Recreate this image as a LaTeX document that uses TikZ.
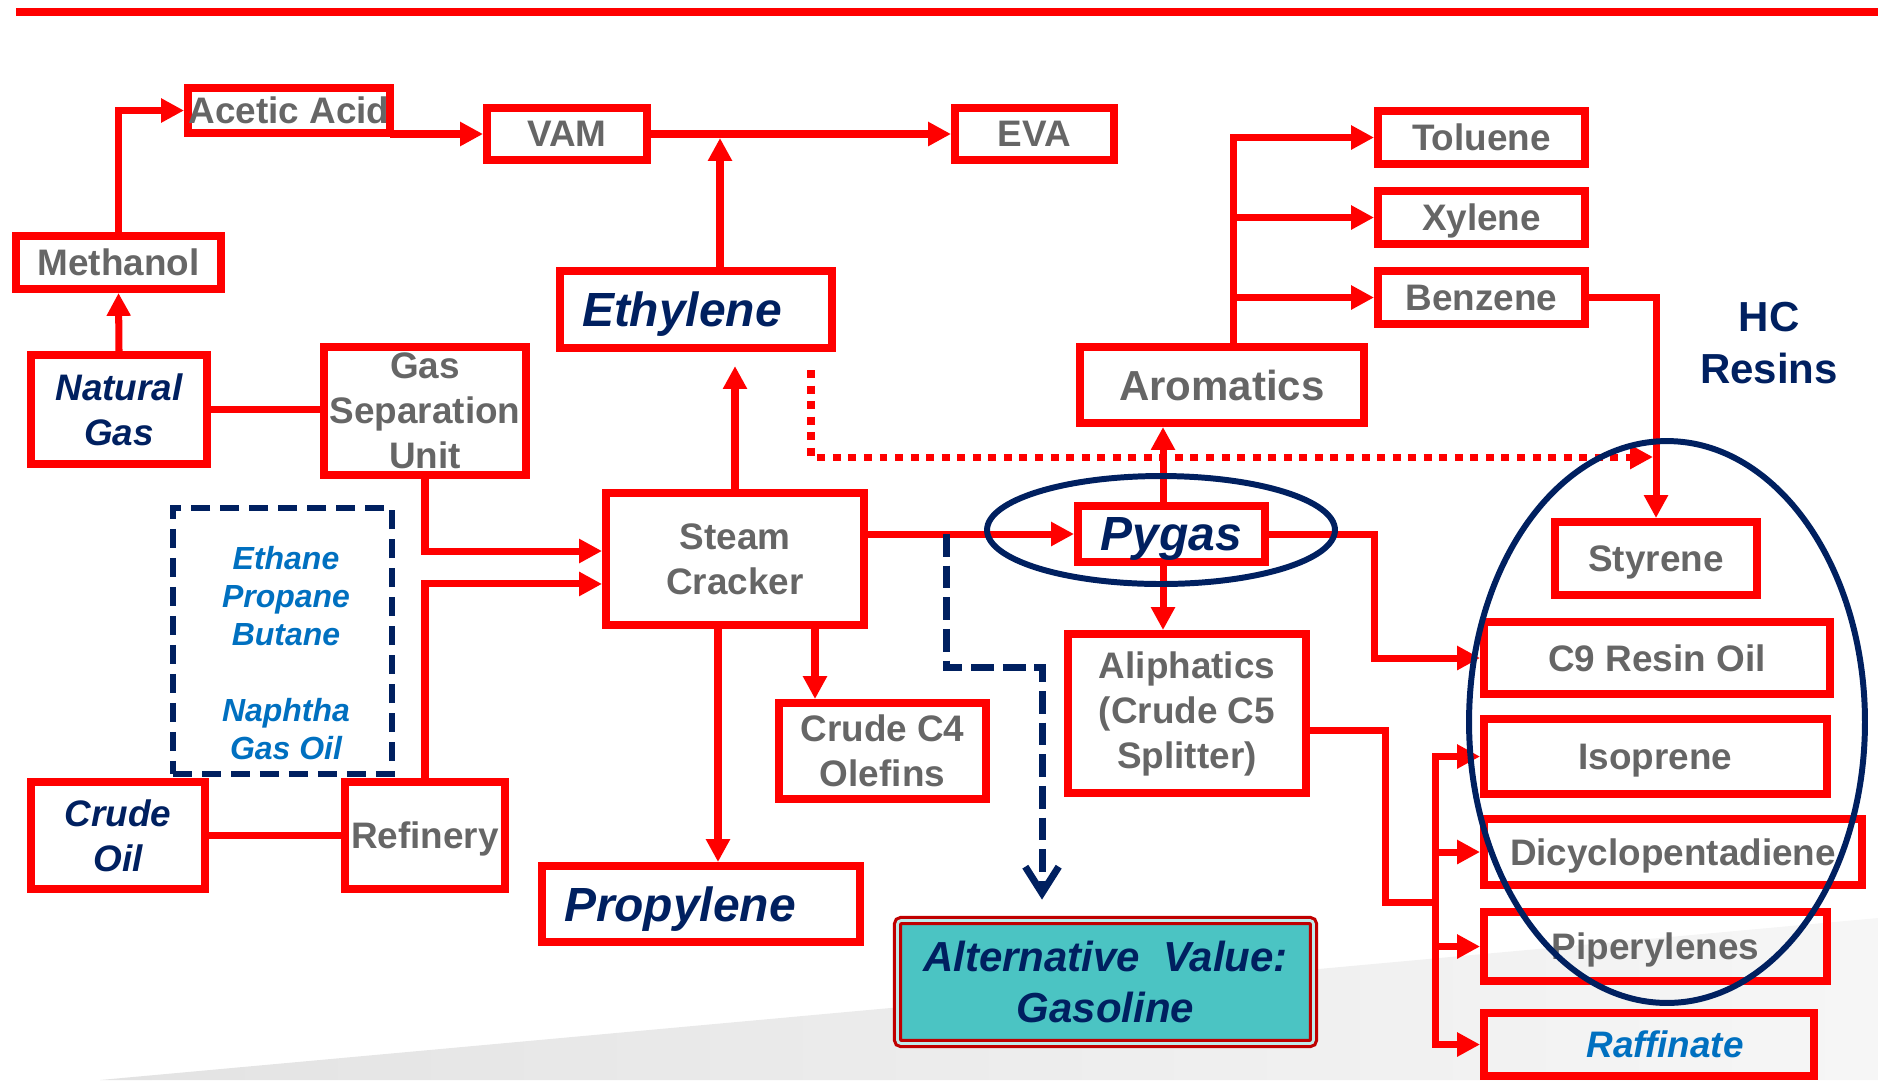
\documentclass[tikz,border=0pt]{standalone}
\usepackage{fontspec}
\setmainfont{Liberation Sans}
\usetikzlibrary{arrows.meta}
\definecolor{boxred}{RGB}{255,0,0}
\definecolor{txtgray}{RGB}{102,102,102}
\definecolor{navy}{RGB}{0,32,96}
\definecolor{feedblue}{RGB}{0,112,192}
\definecolor{altred}{RGB}{192,0,0}
\definecolor{gasteal}{RGB}{75,196,195}
\newcommand\fnorm{\fontsize{21}{25.6}\selectfont\bfseries}
\newcommand\fmid{\fontsize{23.9}{29.4}\selectfont\bfseries}
\newcommand\fbig{\fontsize{27.3}{32}\selectfont\bfseries\itshape}
\newcommand\ffeed{\fontsize{18.2}{21.6}\selectfont\bfseries\itshape}

\begin{document}
\begin{tikzpicture}[x=0.02cm, y=-0.02cm, >={Triangle[length=13pt,width=13pt]},
	bx/.style 2 args={draw=boxred, line width=4.55pt, minimum width=#1, minimum height=#2, inner sep=0pt, align=center, font=\fnorm, text=txtgray},
	sl/.style={text depth=0pt},
	key/.style={text=navy, font=\fnorm\itshape},
	big/.style={text=navy, font=\fbig, text depth=0pt},
	ln/.style={draw=boxred, line width=4pt, line cap=rect},
	arr/.style={ln, ->},
	dotarr/.style={draw=boxred, line width=4pt, dash pattern=on 4.55pt off 4.3pt, ->},
	gasarr/.style={draw=navy, line width=4pt, dash pattern=on 13pt off 5pt, -{Straight Barb[length=15pt,width=19pt]}},
	ring/.style={draw=navy, line width=3.4pt}]
	\useasboundingbox (0,0) rectangle (1878,1080);
	\shade[left color=gray!22, right color=gray!7] (100,1080) -- (1878,918) -- (1878,1080) -- cycle;
	\draw[boxred, line width=5.1pt] (16,12) -- (1878,12);

	\node[bx={4.04cm}{0.90cm}] (AA) at (289,110.5) {Acetic Acid};
	\node[bx={3.20cm}{1.04cm}] (VAM) at (567,134) {VAM};
	\node[bx={3.18cm}{1.04cm}] (EVA) at (1034.5,134) {EVA};
	\node[bx={4.10cm}{1.06cm}] (MeOH) at (118.5,262.5) {Methanol};
	\node[bx={3.52cm}{2.18cm}, key] (NG) at (119,409.5) {Natural\\Gas};
	\node[bx={4.04cm}{2.56cm}] (GSU) at (425,411) {Gas\\Separation\\Unit};
	\node[bx={5.44cm}{1.54cm}, big, text width=4.56cm, align=left] (Et) at (696,309.5) {Ethylene};
	\node[bx={5.68cm}{1.52cm}, font=\fmid] (Ar) at (1222,385) {Aromatics};
	\node[bx={4.14cm}{1.06cm}] (Tol) at (1481.5,137.5) {Toluene};
	\node[bx={4.14cm}{1.06cm}, sl] (Xyl) at (1481.5,217.5) {Xylene};
	\node[bx={4.14cm}{1.06cm}] (Bz) at (1481.5,297.5) {Benzene};
	\node[bx={5.16cm}{2.64cm}] (SC) at (735,559) {Steam\\Cracker};
	\node[bx={3.74cm}{1.12cm}, big] (Py) at (1171.5,534) {Pygas};
	\node[bx={4.14cm}{1.92cm}] (C4) at (882.5,751) {Crude C4\\Olefins};
	\node[bx={4.76cm}{3.18cm}] (Ali) at (1187,713.5) {Aliphatics\\(Crude C5\\Splitter)};
	\node[bx={6.36cm}{1.52cm}, big, text width=5.48cm, align=left] (Pr) at (701,904) {Propylene};
	\node[bx={3.48cm}{2.14cm}, key] (CO) at (118,835.5) {Crude\\Oil};
	\node[bx={3.20cm}{2.14cm}, sl] (Ref) at (425,835.5) {Refinery};
	\node[bx={4.04cm}{1.46cm}, sl] (Sty) at (1656,558.5) {Styrene};
	\node[bx={6.92cm}{1.44cm}] (C9) at (1657,658) {C9 Resin Oil};
	\node[bx={6.86cm}{1.50cm}, sl] (Iso) at (1655.5,756.5) {Isoprene};
	\node[bx={7.56cm}{1.32cm}, sl] (DCPD) at (1673,852) {Dicyclopentadiene};
	\node[bx={6.86cm}{1.38cm}, sl] (Pip) at (1655.5,946.5) {Piperylenes};
	\node[bx={6.60cm}{1.26cm}, text=feedblue, font=\fnorm\itshape] (Raf) at (1649,1044.5) {\hspace*{0.64cm}Raffinate};
	\node[draw=altred, line width=1.8pt, double=gasteal!35!white, double distance=1.6pt, rounded corners=2pt,
		fill=gasteal, minimum width=8.32cm, minimum height=2.46cm, inner sep=0pt, align=center,
		text=navy, font=\fmid\itshape] (Alt) at (1105.5,982) {Alternative\ \ Value:\\Gasoline};
	\node[text=navy, font=\fmid, align=center] (HC) at (1769,343) {HC\\Resins};
	\node[draw=navy, line width=3.6pt, dash pattern=on 11pt off 5.5pt, minimum width=4.38cm, minimum height=5.32cm] (feed) at (282.5,641) {};
	\node[text=feedblue, font=\ffeed, align=center] (fd) at (286,653) {Ethane\\Propane\\Butane\\[21.6pt]Naphtha\\Gas Oil};

	\coordinate (jE) at (720,138);
	\coordinate (xC4) at (815,0);
	\coordinate (xPr) at (718,0);
	\coordinate (xPy) at (1163,0);
	\coordinate (xAr) at (1233,0);
	\coordinate (kC9) at (1374,600);
	\coordinate (kAl) at (1385,730);
	\coordinate (bus) at (1435,902);
	\coordinate (gas) at (946,534);
	\coordinate (kG) at (1042,667);
	\coordinate (dS) at (811,370);
	\coordinate (dE) at (1653,457);

	\draw[ln] (NG) -- (NG -| GSU.west); \draw[ln] (CO) -- (Ref);
	\draw[arr] (NG.north) -- (MeOH.south); \draw[arr] (MeOH.north) |- (AA.west);
	\draw[arr] (VAM.west -| AA.east) -- (VAM.west); \draw[arr] (VAM) -- (EVA);
	\draw[arr] (Et.north -| jE) -- (jE);
	\draw[arr, shorten >=8pt] (SC.north) -- (SC.north |- Et.south);
	\draw[arr] (GSU.south) |- ([yshift=4.55pt]SC.west);
	\draw[arr] (Ref.north) |- ([yshift=-14.2pt]SC.west);
	\draw[arr] (SC.east |- Py.west) -- (Py.west);
	\draw[arr] (xC4 |- SC.south) -- (xC4 |- C4.north);
	\draw[arr] (xPr |- SC.south) -- (xPr |- Pr.north);
	\draw[arr] (xPy |- Py.north) -- (xPy |- Ar.south);
	\draw[arr] (xPy |- Py.south) -- (xPy |- Ali.north);
	\draw[ln] (xAr |- Ar.north) -- (xAr |- Tol.west);
	\foreach \t in {Tol,Xyl,Bz} \draw[arr] (xAr |- \t.west) -- (\t.west);
	\draw[arr] (Bz.east) -| (Sty.north);
	\draw[arr] (Py.east) -| (kC9) |- (C9.west);
	\draw[ln] (Ali.east |- kAl) -- (kAl) |- (bus);
	\draw[ln] (bus |- Iso.west) -- (bus |- Raf.west);
	\foreach \t in {Iso,DCPD,Pip,Raf} \draw[arr] (bus |- \t.west) -- (\t.west);
	\draw[dotarr] (dS) |- (dE);
	\draw[gasarr, shorten >=11pt] (gas) |- (kG) -- (kG |- Alt.north);

	\draw[ring] (1161,530) ellipse [x radius=3.48cm, y radius=1.08cm];
	\draw[ring] (1667,722) ellipse [x radius=3.96cm, y radius=5.62cm];
\end{tikzpicture}
\end{document}
